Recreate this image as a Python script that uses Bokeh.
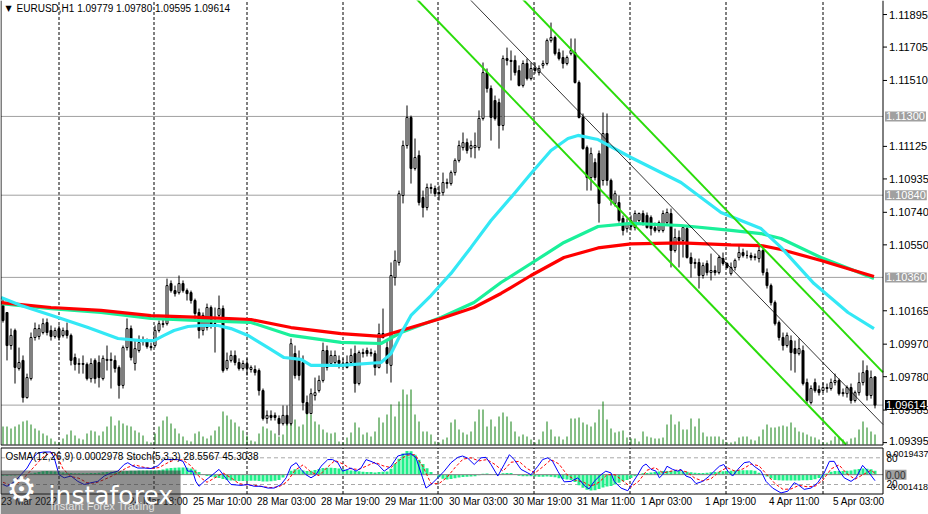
from bokeh.plotting import figure
from bokeh.models import Range1d, Label
from bokeh.layouts import column
from bokeh.core.properties import value
from bokeh.embed import file_html
from bokeh.resources import INLINE

# ---------------- data (EURUSD H1) ----------------
opens = [1.10196, 1.10155, 1.09962, 1.10050, 1.09828, 1.09875, 1.09658, 1.09769, 1.10009, 1.10015,
         1.10038, 1.10096, 1.10050, 1.10015, 1.10061, 1.10021, 1.10050, 1.10021, 1.09892, 1.09852,
         1.09857, 1.09852, 1.09769, 1.09875, 1.09863, 1.09769, 1.09875, 1.09881, 1.09875, 1.09834,
         1.09729, 1.09950, 1.10061, 1.09857, 1.09933, 1.09985, 1.09991, 1.09956, 1.09962, 1.10050,
         1.10090, 1.10090, 1.10324, 1.10283, 1.10271, 1.10324, 1.10283, 1.10271, 1.10225, 1.10155,
         1.10050, 1.10067, 1.10184, 1.10090, 1.10138, 1.10178, 1.09828, 1.09875, 1.09904, 1.09863,
         1.09828, 1.09857, 1.09822, 1.09822, 1.09816, 1.09699, 1.09536, 1.09554, 1.09554, 1.09536,
         1.09506, 1.09554, 1.09506, 1.09915, 1.09887, 1.09863, 1.09629, 1.09565, 1.09670, 1.09699,
         1.09758, 1.09933, 1.09857, 1.09863, 1.09875, 1.09857, 1.09863, 1.09863, 1.09915, 1.09740,
         1.09921, 1.09933, 1.09921, 1.09915, 1.09834, 1.10032, 1.09950, 1.09846, 1.10359, 1.10447,
         1.10838, 1.11130, 1.11294, 1.10996, 1.11072, 1.10826, 1.10768, 1.10879, 1.10879, 1.10855,
         1.10855, 1.10914, 1.10908, 1.10972, 1.11043, 1.11118, 1.11147, 1.11112, 1.11118, 1.11118,
         1.11288, 1.11556, 1.11463, 1.11393, 1.11381, 1.11247, 1.11638, 1.11627, 1.11627, 1.11568,
         1.11481, 1.11609, 1.11521, 1.11580, 1.11556, 1.11598, 1.11609, 1.11743, 1.11761, 1.11673,
         1.11644, 1.11609, 1.11667, 1.11673, 1.11498, 1.11294, 1.11118, 1.10943, 1.11031, 1.11083,
         1.10926, 1.11200, 1.10926, 1.10792, 1.10797, 1.10704, 1.10645, 1.10692, 1.10651, 1.10692,
         1.10733, 1.10722, 1.10710, 1.10651, 1.10634, 1.10634, 1.10680, 1.10733, 1.10517, 1.10593,
         1.10575, 1.10645, 1.10476, 1.10441, 1.10447, 1.10371, 1.10441, 1.10388, 1.10400, 1.10388,
         1.10470, 1.10441, 1.10382, 1.10418, 1.10476, 1.10505, 1.10488, 1.10488, 1.10476, 1.10470,
         1.10517, 1.10388, 1.10312, 1.10213, 1.10096, 1.10009, 1.09962, 1.09991, 1.09944, 1.09915,
         1.09933, 1.09746, 1.09629, 1.09746, 1.09705, 1.09699, 1.09711, 1.09711, 1.09746, 1.09758,
         1.09687, 1.09681, 1.09717, 1.09641, 1.09687, 1.09746, 1.09816, 1.09670, 1.09779]

highs = [1.10236, 1.10120, 1.10061, 1.10061, 1.09950, 1.09904, 1.09798, 1.10038, 1.10096, 1.10085,
         1.10120, 1.10120, 1.10079, 1.10067, 1.10079, 1.10067, 1.10096, 1.10032, 1.09915, 1.09887,
         1.09904, 1.09863, 1.09887, 1.09887, 1.09904, 1.09904, 1.09962, 1.09921, 1.09904, 1.09846,
         1.09962, 1.10120, 1.10079, 1.09991, 1.10021, 1.10015, 1.10003, 1.09979, 1.10079, 1.10108,
         1.10120, 1.10353, 1.10342, 1.10312, 1.10371, 1.10342, 1.10295, 1.10283, 1.10236, 1.10178,
         1.10155, 1.10207, 1.10196, 1.10184, 1.10254, 1.10196, 1.09921, 1.09933, 1.09933, 1.09887,
         1.09875, 1.09887, 1.09846, 1.09846, 1.09828, 1.09711, 1.09583, 1.09583, 1.09571, 1.09554,
         1.09612, 1.09612, 1.10003, 1.09962, 1.09933, 1.09904, 1.09670, 1.09711, 1.09775, 1.09787,
         1.09979, 1.09962, 1.09933, 1.09933, 1.09904, 1.09887, 1.09904, 1.09944, 1.09962, 1.09933,
         1.09944, 1.09950, 1.09944, 1.09933, 1.10090, 1.10178, 1.09991, 1.10447, 1.10517, 1.10867,
         1.11159, 1.11364, 1.11305, 1.11171, 1.11101, 1.10867, 1.10908, 1.10908, 1.10896, 1.10896,
         1.10972, 1.10937, 1.10984, 1.11055, 1.11159, 1.11206, 1.11171, 1.11159, 1.11206, 1.11335,
         1.11615, 1.11580, 1.11481, 1.11422, 1.11404, 1.11656, 1.11702, 1.11685, 1.11656, 1.11598,
         1.11627, 1.11638, 1.11615, 1.11615, 1.11598, 1.11627, 1.11755, 1.11848, 1.11772, 1.11696,
         1.11685, 1.11656, 1.11755, 1.11755, 1.11510, 1.11317, 1.11130, 1.11118, 1.11055, 1.11101,
         1.11323, 1.11317, 1.10937, 1.10867, 1.10838, 1.10722, 1.10704, 1.10722, 1.10751, 1.10739,
         1.10751, 1.10739, 1.10722, 1.10680, 1.10692, 1.10751, 1.10762, 1.10762, 1.10645, 1.10634,
         1.10663, 1.10663, 1.10505, 1.10470, 1.10470, 1.10447, 1.10459, 1.10499, 1.10429, 1.10488,
         1.10505, 1.10447, 1.10447, 1.10470, 1.10546, 1.10528, 1.10517, 1.10505, 1.10499, 1.10546,
         1.10528, 1.10412, 1.10324, 1.10225, 1.10108, 1.10038, 1.10038, 1.10021, 1.09991, 1.10003,
         1.09962, 1.09769, 1.09729, 1.09769, 1.09729, 1.09746, 1.09740, 1.09769, 1.09798, 1.09769,
         1.09711, 1.09729, 1.09740, 1.09699, 1.09804, 1.09875, 1.09846, 1.09816, 1.09780]

lows = [1.10096, 1.09875, 1.09938, 1.09740, 1.09816, 1.09629, 1.09652, 1.09758, 1.09991, 1.09997,
        1.10027, 1.10021, 1.09991, 1.10003, 1.09991, 1.10009, 1.10003, 1.09846, 1.09816, 1.09798,
        1.09798, 1.09758, 1.09746, 1.09740, 1.09717, 1.09758, 1.09816, 1.09711, 1.09804, 1.09652,
        1.09711, 1.09933, 1.09875, 1.09816, 1.09921, 1.09962, 1.09944, 1.09933, 1.09950, 1.10038,
        1.10067, 1.10079, 1.10271, 1.10248, 1.10260, 1.10271, 1.10225, 1.10207, 1.10120, 1.10003,
        1.10021, 1.10050, 1.10061, 1.09921, 1.10120, 1.09804, 1.09816, 1.09863, 1.09846, 1.09816,
        1.09816, 1.09787, 1.09804, 1.09787, 1.09670, 1.09524, 1.09506, 1.09524, 1.09524, 1.09437,
        1.09495, 1.09495, 1.09495, 1.09769, 1.09758, 1.09583, 1.09560, 1.09560, 1.09641, 1.09687,
        1.09746, 1.09816, 1.09846, 1.09846, 1.09828, 1.09834, 1.09828, 1.09846, 1.09687, 1.09729,
        1.09892, 1.09898, 1.09898, 1.09787, 1.09828, 1.10003, 1.09798, 1.09746, 1.10312, 1.10429,
        1.10792, 1.11112, 1.10908, 1.10984, 1.10780, 1.10710, 1.10751, 1.10849, 1.10832, 1.10809,
        1.10838, 1.10879, 1.10896, 1.10955, 1.11031, 1.11101, 1.11083, 1.11060, 1.11055, 1.11101,
        1.11276, 1.11439, 1.11159, 1.11276, 1.11112, 1.11218, 1.11598, 1.11510, 1.11539, 1.11475,
        1.11469, 1.11510, 1.11510, 1.11550, 1.11539, 1.11580, 1.11598, 1.11731, 1.11656, 1.11627,
        1.11580, 1.11598, 1.11656, 1.11492, 1.11288, 1.11106, 1.10867, 1.10867, 1.10926, 1.10680,
        1.10896, 1.10896, 1.10780, 1.10774, 1.10680, 1.10605, 1.10622, 1.10634, 1.10634, 1.10680,
        1.10663, 1.10645, 1.10605, 1.10622, 1.10622, 1.10622, 1.10669, 1.10418, 1.10505, 1.10418,
        1.10476, 1.10470, 1.10359, 1.10412, 1.10295, 1.10353, 1.10371, 1.10342, 1.10371, 1.10377,
        1.10429, 1.10412, 1.10371, 1.10400, 1.10459, 1.10476, 1.10470, 1.10459, 1.10459, 1.10447,
        1.10371, 1.10295, 1.10196, 1.10079, 1.09991, 1.09933, 1.09950, 1.09816, 1.09804, 1.09904,
        1.09729, 1.09623, 1.09618, 1.09687, 1.09670, 1.09687, 1.09687, 1.09699, 1.09729, 1.09670,
        1.09664, 1.09658, 1.09623, 1.09629, 1.09670, 1.09729, 1.09641, 1.09652, 1.09595]

closes = [1.10108, 1.09962, 1.10021, 1.09834, 1.09863, 1.09658, 1.09775, 1.10009, 1.10061, 1.10061,
          1.10090, 1.10038, 1.10015, 1.10050, 1.10009, 1.10050, 1.10021, 1.09875, 1.09852, 1.09857,
          1.09852, 1.09769, 1.09857, 1.09769, 1.09775, 1.09887, 1.09881, 1.09875, 1.09828, 1.09729,
          1.09950, 1.10061, 1.09892, 1.09944, 1.09979, 1.09991, 1.09956, 1.09950, 1.10050, 1.10090,
          1.10085, 1.10312, 1.10283, 1.10265, 1.10324, 1.10283, 1.10265, 1.10225, 1.10149, 1.10050,
          1.10138, 1.10184, 1.10079, 1.10079, 1.10178, 1.09816, 1.09875, 1.09904, 1.09863, 1.09828,
          1.09857, 1.09828, 1.09834, 1.09804, 1.09699, 1.09536, 1.09554, 1.09542, 1.09542, 1.09506,
          1.09554, 1.09506, 1.09973, 1.09787, 1.09787, 1.09629, 1.09565, 1.09681, 1.09687, 1.09758,
          1.09933, 1.09834, 1.09904, 1.09904, 1.09857, 1.09846, 1.09834, 1.09904, 1.09740, 1.09921,
          1.09915, 1.09915, 1.09915, 1.09834, 1.10032, 1.10009, 1.09857, 1.10371, 1.10459, 1.10849,
          1.11130, 1.11294, 1.10996, 1.11060, 1.10797, 1.10768, 1.10885, 1.10885, 1.10849, 1.10849,
          1.10914, 1.10908, 1.10972, 1.11043, 1.11130, 1.11147, 1.11101, 1.11130, 1.11130, 1.11288,
          1.11556, 1.11463, 1.11294, 1.11288, 1.11247, 1.11638, 1.11627, 1.11621, 1.11556, 1.11481,
          1.11609, 1.11521, 1.11580, 1.11568, 1.11580, 1.11609, 1.11743, 1.11761, 1.11667, 1.11638,
          1.11609, 1.11644, 1.11685, 1.11498, 1.11294, 1.11112, 1.10943, 1.11083, 1.10943, 1.10792,
          1.11200, 1.10926, 1.10809, 1.10849, 1.10692, 1.10634, 1.10675, 1.10657, 1.10733, 1.10733,
          1.10680, 1.10651, 1.10645, 1.10634, 1.10680, 1.10733, 1.10739, 1.10517, 1.10593, 1.10575,
          1.10651, 1.10476, 1.10441, 1.10447, 1.10371, 1.10429, 1.10388, 1.10400, 1.10388, 1.10476,
          1.10441, 1.10418, 1.10418, 1.10459, 1.10505, 1.10488, 1.10488, 1.10476, 1.10482, 1.10517,
          1.10388, 1.10312, 1.10213, 1.10090, 1.10009, 1.09962, 1.10021, 1.09921, 1.09915, 1.09944,
          1.09740, 1.09641, 1.09711, 1.09699, 1.09687, 1.09717, 1.09717, 1.09746, 1.09758, 1.09681,
          1.09681, 1.09717, 1.09641, 1.09687, 1.09746, 1.09804, 1.09670, 1.09775, 1.09614]

volumes = [1800, 1800, 1600, 1800, 2000, 2300, 2400, 2000, 1600, 1400,
           1100, 900, 600, 300, 200, 600, 1000, 1400, 900, 600,
           500, 1100, 1400, 1300, 900, 1300, 1800, 2800, 1900, 2400,
           2100, 1900, 1800, 1400, 1200, 900, 300, 200, 1100, 1800,
           2400, 2800, 2100, 1600, 1100, 800, 400, 300, 1100, 1300,
           800, 600, 900, 1400, 1800, 3300, 2900, 2500, 2200, 1800,
           1400, 900, 400, 300, 1100, 1800, 1600, 1400, 1100, 800,
           1000, 2400, 3800, 2500, 1800, 2000, 3200, 3000, 2300, 2000,
           1500, 1200, 1100, 1200, 300, 200, 700, 1200, 2200, 1700,
           1000, 1200, 800, 1300, 2700, 2200, 3000, 4000, 2800, 4300,
           5500, 5000, 5500, 3000, 2300, 1300, 1300, 1000, 300, 200,
           500, 700, 2200, 2500, 1500, 1200, 1000, 1300, 2300, 3500,
           3500, 1800, 2500, 1800, 2800, 3200, 2800, 2300, 1300, 800,
           1000, 800, 500, 200, 500, 1300, 2300, 1500, 800, 800,
           500, 800, 2600, 2600, 2700, 2200, 2000, 1800, 2200, 3500,
           4300, 2500, 1600, 1200, 1300, 1400, 700, 600, 600, 300,
           1300, 800, 700, 600, 600, 700, 2000, 3000, 2000, 2300,
           1500, 1500, 2600, 1800, 2600, 1200, 800, 800, 800, 800,
           500, 200, 200, 300, 700, 800, 800, 500, 400, 800,
           1500, 2000, 1700, 1700, 1800, 1900, 1800, 2200, 1700, 1300,
           1200, 1000, 800, 700, 500, 200, 200, 400, 800, 700,
           500, 300, 600, 700, 1500, 2300, 1700, 1300, 1000]

osma = [-0.00008, -0.00008, -0.00007, -0.00006, -0.00004, -0.00002, 0.00002, 0.00008, 0.00014, 0.0002,
        0.00025, 0.00027, 0.00026, 0.00024, 0.0002, 0.00016, 0.00014, 0.00012, 0.0001, 0.0001,
        0.0001, 0.00011, 0.00012, 0.00013, 0.00015, 0.00018, 0.0002, 0.00021, 0.00021, 0.00022,
        0.00025, 0.00028, 0.0003, 0.0003, 0.00031, 0.00031, 0.00031, 0.00031, 0.00032, 0.00034,
        0.00038, 0.00046, 0.0005, 0.00052, 0.00054, 0.00054, 0.00052, 0.00046, 0.00036, 0.0002,
        0.00002, -0.0001, -0.00016, -0.00022, -0.00025, -0.00033, -0.0004, -0.00044, -0.00047, -0.00048,
        -0.00048, -0.00048, -0.00047, -0.00047, -0.00048, -0.00052, -0.00052, -0.0005, -0.00046, -0.0004,
        -0.00022, 0.00005, 0.0003, 0.0004, 0.00038, 0.00032, 0.00028, 0.0003, 0.00035, 0.00042,
        0.0005, 0.00052, 0.00052, 0.0005, 0.00046, 0.0004, 0.00035, 0.00032, 0.00028, 0.00025,
        0.00022, 0.0002, 0.00019, 0.00017, 0.0002, 0.00022, 0.00023, 0.00045, 0.00085, 0.0012,
        0.0016, 0.00178, 0.00176, 0.0015, 0.00112, 0.0008, 0.00048, 0.0002, 0.00002, -0.0002,
        -0.00032, -0.00036, -0.00033, -0.00028, -0.00022, -0.00018, -0.00016, -0.00015, -0.00012, -0.00005,
        0.00006, 0.00008, 0.00005, 0.00004, 0.00005, 0.0001, 0.00013, 0.00012, 0.00002, -0.00008,
        -0.00012, -0.00012, -0.00013, -0.00015, -0.00016, -0.00016, -0.00015, -0.00016, -0.0002, -0.00027,
        -0.00033, -0.00037, -0.0004, -0.00055, -0.0008, -0.001, -0.00115, -0.0012, -0.00118, -0.00108,
        -0.00098, -0.0009, -0.00085, -0.00075, -0.00062, -0.0005, -0.0004, -0.00025, -0.00012, 0.00002,
        0.0001, 0.00013, 0.00016, 0.0002, 0.00024, 0.00027, 0.00028, 0.00028, 0.00029, 0.00028,
        0.00026, 0.00022, 0.00018, 0.00014, 0.00012, 0.00013, 0.00015, 0.00018, 0.0002, 0.00022,
        0.00025, 0.00028, 0.0003, 0.00032, 0.00033, 0.00034, 0.00034, 0.00033, 0.0003, 0.00015,
        0.00005, -0.00015, -0.0003, -0.0004, -0.00043, -0.00045, -0.00045, -0.00045, -0.00044, -0.00044,
        -0.00043, -0.00042, -0.0004, -0.00035, -0.00025, -0.00012, 0.00008, 0.00022, 0.00027, 0.00028,
        0.00028, 0.00029, 0.00032, 0.00038, 0.00042, 0.00046, 0.00045, 0.0004, 0.0003]

stoch_main_x = [0, 1, 3, 4.5, 6, 7.5, 8.7, 10.3, 12, 12.8,
                14, 15.3, 17, 18.7, 20.3, 22, 23.7, 25.3, 27, 28.7,
                30.3, 31.2, 32.4, 33.7, 35.3, 37, 38.7, 40.3, 42, 43.7,
                45, 46.2, 47.4, 48.2, 49, 50.3, 52, 54, 55.3, 57,
                59.5, 61.2, 62.8, 64.5, 66.2, 67.8, 69.5, 70.8, 72, 73.3,
                74.5, 75.75, 77, 78.25, 79.5, 81.2, 82.4, 83.7, 84.9, 86.2,
                87, 88.25, 89.5, 90.75, 92, 93.7, 95.3, 97, 98.7, 100.3,
                102, 103.25, 104.1, 104.9, 105.75, 107, 108.7, 110.3, 112, 113.7,
                114.9, 116.2, 117.8, 119.5, 120.75, 122, 123.7, 125.3, 126.6, 127.8,
                129.5, 131.2, 132, 133.7, 134.9, 136.2, 137.4, 138.7, 140.3, 142,
                143.7, 145.3, 146.5, 147.8, 149.5, 150.7, 152, 152.8, 154.5, 156.2,
                157.4, 158.7, 159.9, 160.75, 162, 163.25, 164.1, 164.9, 166, 167.4,
                168.7, 169.5, 170.75, 172, 173.25, 174.9, 176.6, 177.8, 179.1, 180.2,
                181.2, 182.4, 183.7, 185.3, 186.6, 187.8, 189.5, 190.75, 192.4, 194.5,
                196.2, 197.8, 198.7, 200.3, 202, 203.7, 205.3, 206.6, 207.8, 209.1,
                210.3, 212, 213.25, 214.9, 216.2, 218]
stoch_main = [20, 16, 27, 42, 57, 80, 91, 93, 93, 80,
              42, 35, 39, 27, 20, 24, 27, 39, 46, 50,
              65, 69, 62, 57, 57, 56, 62, 76, 76, 76,
              72, 50, 50, 27, 16, 27, 39, 54, 39, 20,
              18, 20, 16, 16, 12, 12, 20, 35, 61, 69,
              54, 42, 35, 42, 61, 76, 76, 69, 50, 54,
              57, 50, 57, 76, 72, 65, 50, 61, 84, 88,
              89, 80, 57, 35, 12, 20, 35, 50, 69, 81,
              84, 79, 65, 80, 81, 65, 39, 65, 87, 76,
              54, 46, 42, 61, 76, 80, 72, 50, 26, 27,
              35, 18, 10, 27, 42, 50, 46, 27, 12, 6,
              24, 42, 61, 66, 54, 50, 35, 42, 61, 54,
              50, 54, 39, 35, 22, 27, 39, 50, 61, 65,
              50, 39, 54, 69, 71, 61, 50, 27, 12, 1,
              5, 24, 20, 9, 12, 24, 46, 72, 72, 50,
              35, 27, 35, 63, 50, 28.5567]

stoch_sig_x = [0, 2, 4, 6, 8, 10, 12, 13.5, 15, 17, 19, 21, 23, 25, 27, 29, 31, 33, 35, 37, 39,
               41, 43, 45, 47, 49, 51, 53, 55, 57, 59, 61, 63, 65, 67, 69, 71, 73, 75, 77, 79,
               81, 83, 85, 87, 89, 91, 93, 95, 97, 99, 101, 103, 105, 107, 109, 111, 113, 115, 117, 119,
               121, 123, 125, 127, 129, 131, 133, 135, 137, 139, 141, 143, 145, 147, 149, 151, 153, 155, 157, 159,
               161, 163, 165, 167, 169, 171, 173, 175, 177, 179, 181, 183, 185, 187, 189, 191, 193, 195, 197, 199,
               201, 203, 205, 207, 209, 211, 213, 215, 217, 218]
stoch_sig = [25, 18, 25, 42, 62, 82, 92, 85, 55, 38,
             34, 24, 23, 30, 38, 47, 58, 64, 59, 56,
             58, 68, 76, 75, 62, 38, 25, 35, 46, 35,
             22, 19, 18, 15, 13, 15, 26, 52, 64, 48,
             40, 58, 74, 66, 55, 54, 62, 70, 62, 58,
             74, 86, 87, 60, 22, 22, 36, 58, 77, 80,
             73, 76, 65, 50, 70, 72, 56, 46, 60, 76,
             66, 42, 30, 26, 16, 25, 42, 42, 28, 14,
             28, 52, 58, 46, 50, 53, 48, 34, 28, 33,
             48, 58, 50, 55, 66, 62, 42, 22, 9, 10,
             18, 15, 16, 30, 55, 64, 44, 32, 42, 52,
             45.3038]

ma_x = [-0.5, 12, 24.5, 37, 49.5, 62, 72, 84.5, 94.5, 99.5, 109.5, 117.75,
        124.5, 132, 140.25, 148.75, 157, 169.5, 182, 189.5, 194.5, 204.5, 212.75, 217.75]
ma_red = [1.10213, 1.10184, 1.10167, 1.10137, 1.10126, 1.10114, 1.10067, 1.10032, 1.10015, 1.10050, 1.10120, 1.10184,
          1.10266, 1.10371, 1.10476, 1.10532, 1.10556, 1.10562, 1.10550, 1.10546, 1.10523, 1.10459, 1.10400, 1.10365]
ma_green = [1.10207, 1.10178, 1.10155, 1.10120, 1.10108, 1.10097, 1.10021, 1.09980, 1.09974, 1.10038, 1.10126, 1.10213,
            1.10330, 1.10441, 1.10564, 1.10657, 1.10675, 1.10663, 1.10634, 1.10616, 1.10587, 1.10476, 1.10400, 1.10353]

cyan_x = [-0.5, 4.5, 13.75, 21.25, 28.75, 34.5, 37.75, 40.25, 42.75, 46.25,
          49.5, 53.75, 57, 61.25, 66.25, 70.25, 74.5, 77, 84.5, 94.5,
          97, 99.5, 102, 107, 112, 117, 122, 127, 132, 137,
          141.25, 143.75, 148.75, 157, 169.5, 179.5, 189.5, 194.5, 202.75, 211.25, 217.75]
ma_cyan = [1.10242, 1.10196, 1.10126, 1.10067, 1.10003, 1.09991, 1.09991, 1.10021, 1.10050, 1.10073,
           1.10079, 1.10079, 1.10061, 1.10021, 1.09950, 1.09892, 1.09881, 1.09846, 1.09846, 1.09863,
           1.09915, 1.10032, 1.10138, 1.10254, 1.10383, 1.10535, 1.10692, 1.10827, 1.10967, 1.11101,
           1.11171, 1.11189, 1.11165, 1.11060, 1.10914, 1.10739, 1.10645, 1.10535, 1.10324, 1.10155, 1.10061]

# equidistant channel (end points)
chan_upper_x = [125, 220]
chan_upper = [1.12104, 1.09805]
chan_mid_x = [112, 220]
chan_mid = [1.12097, 1.09501]
chan_lower_x = [100, 210.75]
chan_lower = [1.12068, 1.09384]

levels = [1.11300, 1.10840, 1.10360]
bid = 1.09614
price_ticks = [1.11895, 1.11705, 1.11510, 1.11125, 1.10935, 1.10740, 1.10550,
               1.10165, 1.09970, 1.09780, 1.09585, 1.09395]
day_starts = [14, 37.75, 61, 85, 108.75, 132.75, 156.75, 180.75, 205]
time_tick_bars = [0, 32, 48, 64, 80, 96, 112, 128, 144, 160, 176, 192, 208]
time_tick_labels = ["23 Mar 2022", "24 Mar 18:00", "25 Mar 10:00", "28 Mar 03:00", "28 Mar 19:00",
                    "29 Mar 11:00", "30 Mar 03:00", "30 Mar 19:00", "31 Mar 11:00", "1 Apr 03:00",
                    "1 Apr 19:00", "4 Apr 11:00", "5 Apr 03:00"]

# ---------------- layout constants (pixels) ----------------
FONT = "Liberation Sans"
W = 928
MAIN_H = 446
IND_H = 68
XR = 220.0                      # right edge of the chart windows (bar units)
PXB = 4.0                       # pixels per bar
X0 = -0.625
X1 = X0 + W / PXB


def px(n):
    return n / PXB


P_TOP = 1.11977                 # price at the top edge of the chart window
PPP = 0.0000584                 # price per pixel
P_BOT = P_TOP - 444.5 * PPP     # bottom line of the chart window
VPP = 100                       # volume units per pixel

S_PX = 0.445                    # pixels per stochastic unit
S_TOP_PX = 2.4                  # pixel row of stoch 100 (indicator canvas)
S_BOT_PX = S_TOP_PX + 100 * S_PX
O_LO, O_HI = -0.001418, 0.0019437
OPP = (O_HI - O_LO) / (100 * S_PX)


def srow(p):
    """stochastic value at a given pixel row of the indicator canvas"""
    return 100 - (p - S_TOP_PX) / S_PX


x_rng = Range1d(X0, X1)

# ---------------- main chart window ----------------
main = figure(width=W, height=MAIN_H, x_range=x_rng,
              y_range=Range1d(P_TOP - MAIN_H * PPP, P_TOP),
              output_backend="svg", toolbar_location=None, tools="",
              x_axis_location=None, y_axis_location=None, min_border=0)
main.extra_y_ranges = {"vol": Range1d(-(MAIN_H - 444) * VPP, 444 * VPP)}
main.grid.visible = False
main.outline_line_color = None
main.background_fill_color = "white"
main.border_fill_color = "white"

GRID_DASH = "3 2"
main.segment(x0=day_starts, y0=[P_BOT] * len(day_starts), x1=day_starts, y1=[P_TOP] * len(day_starts),
             line_color="black", line_dash=GRID_DASH, line_width=1)
lv_all = levels + [bid]
main.segment(x0=[-0.5] * 4, y0=lv_all, x1=[XR] * 4, y1=lv_all, line_color="#A0A0A0", line_width=1)

bars = list(range(len(closes)))
bull = [i for i in bars if closes[i] > opens[i]]
bear = [i for i in bars if closes[i] <= opens[i]]

# volumes
main.segment(x0=bars, y0=[0] * len(bars), x1=bars, y1=volumes, y_range_name="vol",
             line_color="#0F7F0F", line_width=1)

# candles
main.segment(x0=bars, y0=lows, x1=bars, y1=highs, line_color="black", line_width=1)
main.vbar(x=bull, top=[closes[i] for i in bull], bottom=[opens[i] for i in bull],
          width=0.5, fill_color="white", line_color="black", line_width=1)
main.vbar(x=bear, top=[opens[i] for i in bear], bottom=[closes[i] for i in bear],
          width=0.5, fill_color="black", line_color="black", line_width=1)

# moving averages
main.line(ma_x, ma_green, line_color="#1AF09A", line_width=3.2)
main.line(ma_x, ma_red, line_color="#FF0000", line_width=3.2)
main.line(cyan_x, ma_cyan, line_color="#33E8F5", line_width=3.2)

# channel
main.line(chan_upper_x, chan_upper, line_color="#2ADC0A", line_width=2)
main.line(chan_lower_x, chan_lower, line_color="#2ADC0A", line_width=2)
main.line(chan_mid_x, chan_mid, line_color="black", line_width=0.8)

# window borders (left, right, bottom)
main.segment(x0=[-0.5, XR, -0.5], y0=[P_BOT, P_BOT, P_BOT], x1=[-0.5, XR, XR], y1=[P_TOP, P_TOP, P_BOT],
             line_color="black", line_width=1)

# price scale
nt = len(price_ticks)
main.segment(x0=[XR] * nt, y0=price_ticks, x1=[XR + px(4)] * nt, y1=price_ticks,
             line_color="black", line_width=1)
main.text(x=[XR + px(6)] * nt, y=price_ticks, text=["%.5f" % t for t in price_ticks],
          y_offset=[0] * (nt - 1) + [-2],
          text_font=value(FONT), text_font_size=value("11px"), text_baseline="middle",
          text_align="left", text_color="black")

for lv in levels:
    main.add_layout(Label(x=XR + px(2), y=lv, text="%.5f" % lv, text_font=FONT, text_font_size="11px",
                          text_baseline="middle", text_color="white",
                          background_fill_color="#A0A0A0", padding=1))
main.add_layout(Label(x=XR + px(2), y=bid, text="%.5f" % bid, text_font=FONT, text_font_size="11px",
                      text_baseline="middle", text_color="white",
                      background_fill_color="black", padding=1))

main.add_layout(Label(x=1.4, y=P_TOP - 8 * PPP, text="▼", text_font="DejaVu Sans", text_font_size="8px",
                      text_align="center", text_baseline="middle", text_color="black"))
main.add_layout(Label(x=3.4, y=P_TOP - 8 * PPP, text="EURUSD,H1  1.09779 1.09780 1.09595 1.09614",
                      text_font=FONT, text_font_size="10px", text_baseline="middle",
                      text_color="black"))

# ---------------- indicator window ----------------
S_START = srow(IND_H)
S_END = srow(0)
ind = figure(width=W, height=IND_H, x_range=x_rng, y_range=Range1d(S_START, S_END),
             output_backend="svg", toolbar_location=None, tools="",
             x_axis_location=None, y_axis_location=None, min_border=0)
ind.extra_y_ranges = {"osma": Range1d(O_LO - (IND_H - S_BOT_PX) * OPP, O_HI + S_TOP_PX * OPP)}
ind.grid.visible = False
ind.outline_line_color = None
ind.background_fill_color = "white"
ind.border_fill_color = "white"

S_B = srow(47.5)     # bottom border row
S_T = srow(1.5)      # top border row
ind.segment(x0=day_starts, y0=[S_B] * len(day_starts), x1=day_starts, y1=[S_T] * len(day_starts),
            line_color="black", line_dash=GRID_DASH, line_width=1)
ind.segment(x0=[-0.5, -0.5], y0=[80, 20], x1=[XR, XR], y1=[80, 20],
            line_color="#A8A8A8", line_dash="4 3", line_width=1)

ind.vbar(x=bars, top=osma, bottom=0, width=0.75, y_range_name="osma",
         fill_color="#20F08A", line_color=None)
ind.segment(x0=[-0.5], y0=[0], x1=[XR], y1=[0], y_range_name="osma", line_color="#808080", line_width=1)
ind.line(stoch_sig_x, stoch_sig, line_color="#FF0000", line_width=1, line_dash="3 2")
ind.line(stoch_main_x, stoch_main, line_color="#0000FF", line_width=1)

ind.segment(x0=[-0.5, XR, -0.5, -0.5], y0=[S_B, S_B, S_B, S_T], x1=[-0.5, XR, XR, XR], y1=[S_T, S_T, S_B, S_T],
            line_color="black", line_width=1)

# time scale
ind.text(x=[b - 0.5 for b in time_tick_bars], y=[srow(54.5)] * len(time_tick_bars),
         text=time_tick_labels,
         text_font=value(FONT), text_font_size=value("10px"), text_baseline="middle",
         text_align="left", text_color="black")

# logo watermark
ind.quad(left=[X0], right=[44.4], top=[srow(24)], bottom=[S_START], fill_color="#333333",
         fill_alpha=0.55, line_color=None)
ind.add_layout(Label(x=4.6, y=srow(42), text="⚙", text_font="DejaVu Sans", text_font_size="34px",
                     text_align="center", text_baseline="middle", text_color="white"))
ind.add_layout(Label(x=11.4, y=srow(48.7), text="instaforex", text_font="DejaVu Sans",
                     text_font_size="25px", text_baseline="alphabetic", text_color="white"))
ind.add_layout(Label(x=11.9, y=srow(59.7), text="Instant Forex Trading", text_font=FONT,
                     text_font_size="11px", text_baseline="middle", text_color="#E0E0E0"))

ind.add_layout(Label(x=0.625, y=srow(10), text="OsMA(12,26,9) 0.0002978  Stoch(5,3,3) 28.5567 45.3038",
                     text_font=FONT, text_font_size="10px", text_baseline="middle",
                     text_color="black"))

# indicator scale texts
ind.add_layout(Label(x=XR + px(3), y=srow(7.5), text="0.0019437", text_font=FONT, text_font_size="9px",
                     text_baseline="middle", text_color="black"))
ind.add_layout(Label(x=XR + px(3.5), y=srow(11.5), text="80", text_font=FONT, text_font_size="10px",
                     text_baseline="middle", text_color="black"))
ind.add_layout(Label(x=XR + px(2), y=srow(S_TOP_PX + O_HI / OPP), text="0.00", text_font=FONT,
                     text_font_size="10px", text_baseline="middle", text_color="#303030",
                     background_fill_color="#A0A0A0", padding=1))
ind.add_layout(Label(x=XR + px(3.5), y=srow(37), text="20", text_font=FONT, text_font_size="10px",
                     text_baseline="middle", text_color="black"))
ind.add_layout(Label(x=XR + px(4.5), y=srow(40), text="-0.001418", text_font=FONT, text_font_size="9px",
                     text_baseline="middle", text_color="black"))

layout = column(main, ind, spacing=0)
open("out.html", "w").write(file_html(layout, INLINE))
